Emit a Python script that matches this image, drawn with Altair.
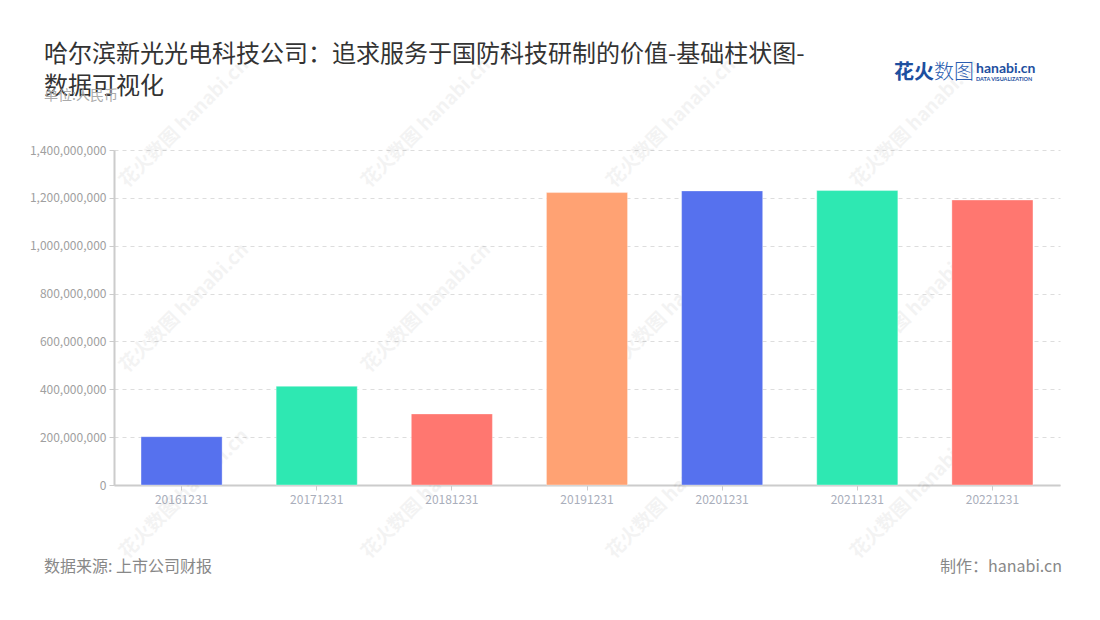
import altair as alt
import pandas as pd

# ---- data ----
dates = ["20161231", "20171231", "20181231", "20191231", "20201231", "20211231", "20221231"]
values = [202000000, 412500000, 297000000, 1222000000, 1229000000, 1230500000, 1191000000]
bar_colors = ["#5671EE", "#2EE8B2", "#FF7770", "#FFA273", "#5671EE", "#2EE8B2", "#FF7770"]
y_ticks = [0, 200000000, 400000000, 600000000, 800000000, 1000000000, 1200000000, 1400000000]

title_line1 = "哈尔滨新光光电科技公司：追求服务于国防科技研制的价值-基础柱状图-"
title_line2 = "数据可视化"
subtitle = "单位:人民币"
source_text = "数据来源: 上市公司财报"
credit_text = "制作：hanabi.cn"

df = pd.DataFrame({"date": dates, "value": values, "color": bar_colors})

FONT = "Noto Sans CJK SC"
W, H = 946, 335

bars = alt.Chart(df).mark_bar(strokeWidth=1, stroke="white", strokeOpacity=0.35).encode(
    x=alt.X("date:N", sort=dates, title=None,
            scale=alt.Scale(paddingInner=0.4, paddingOuter=0.2),
            axis=alt.Axis(labelAngle=0, labelColor="#a9aebb", labelFontSize=12, labelFont=FONT,
                          domainColor="#cccccc", domainWidth=2, tickColor="#cccccc", tickSize=5,
                          labelPadding=4, grid=False)),
    y=alt.Y("value:Q", title=None,
            scale=alt.Scale(domain=[0, 1400000000], nice=False),
            axis=alt.Axis(values=y_ticks, format=",.0f", labelColor="#a0a0a0", labelFontSize=12,
                          labelFont=FONT, domainColor="#cccccc", domainWidth=2, tickColor="#cccccc",
                          tickSize=5, labelPadding=3, grid=True, gridColor="#dddddd",
                          gridDash=[4, 4], gridWidth=1)),
    color=alt.Color("color:N", scale=None),
)


def txt(text, x, y, **kw):
    return alt.Chart(alt.Data(values=[{}])).mark_text(text=text, font=kw.pop("font", FONT),
                                                      baseline=kw.pop("baseline", "middle"),
                                                      **kw).encode(
        x=alt.value(x), y=alt.value(y))


layers = []
# watermarks (decoration)
wm_cols = [70, 312, 557, 801]
wm_rows = [-27, 158, 344]
for cx in wm_cols:
    for cy in wm_rows:
        layers.append(txt("花火数图 hanabi.cn", cx, cy, align="center", angle=315,
                          fontSize=19, fontWeight="bold", color="#000000", opacity=0.045))

layers.append(bars)

# titles
layers.append(txt(title_line1, -70, -95, align="left", fontSize=24, color="#333333"))
layers.append(txt(title_line2, -70, -63, align="left", fontSize=24, color="#333333"))
layers.append(txt(subtitle, -70, -54, align="left", fontSize=14, color="#aaaaaa"))

# footer
layers.append(txt(source_text, -70, 417, align="left", fontSize=16, color="#888888"))
layers.append(txt(credit_text, 948, 417, align="right", fontSize=16, color="#888888"))

# logo
layers.append(txt("花火", 780, -77, align="left", fontSize=20, fontWeight="bold", color="#1d4f9f"))
layers.append(txt("数图", 820, -77, align="left", fontSize=20, fontWeight=300, color="#2a5db0"))
layers.append(txt("hanabi.cn", 862, -81, align="left", fontSize=14, fontWeight="bold",
                  color="#1d4f9f", font="Lato"))
layers.append(txt("DATA VISUALIZATION", 862, -71, align="left", fontSize=5.5, fontWeight="bold",
                  color="#1d4f9f", font="Lato"))

chart = alt.layer(*layers).properties(
    width=W, height=H,
    autosize=alt.AutoSizeParams(type="none"),
    padding={"left": 106, "top": 142, "right": 32, "bottom": 127},
    background="white",
).configure_view(stroke="transparent", strokeWidth=0)

chart.save("out.html", embed_options={"renderer": "svg", "actions": False})
